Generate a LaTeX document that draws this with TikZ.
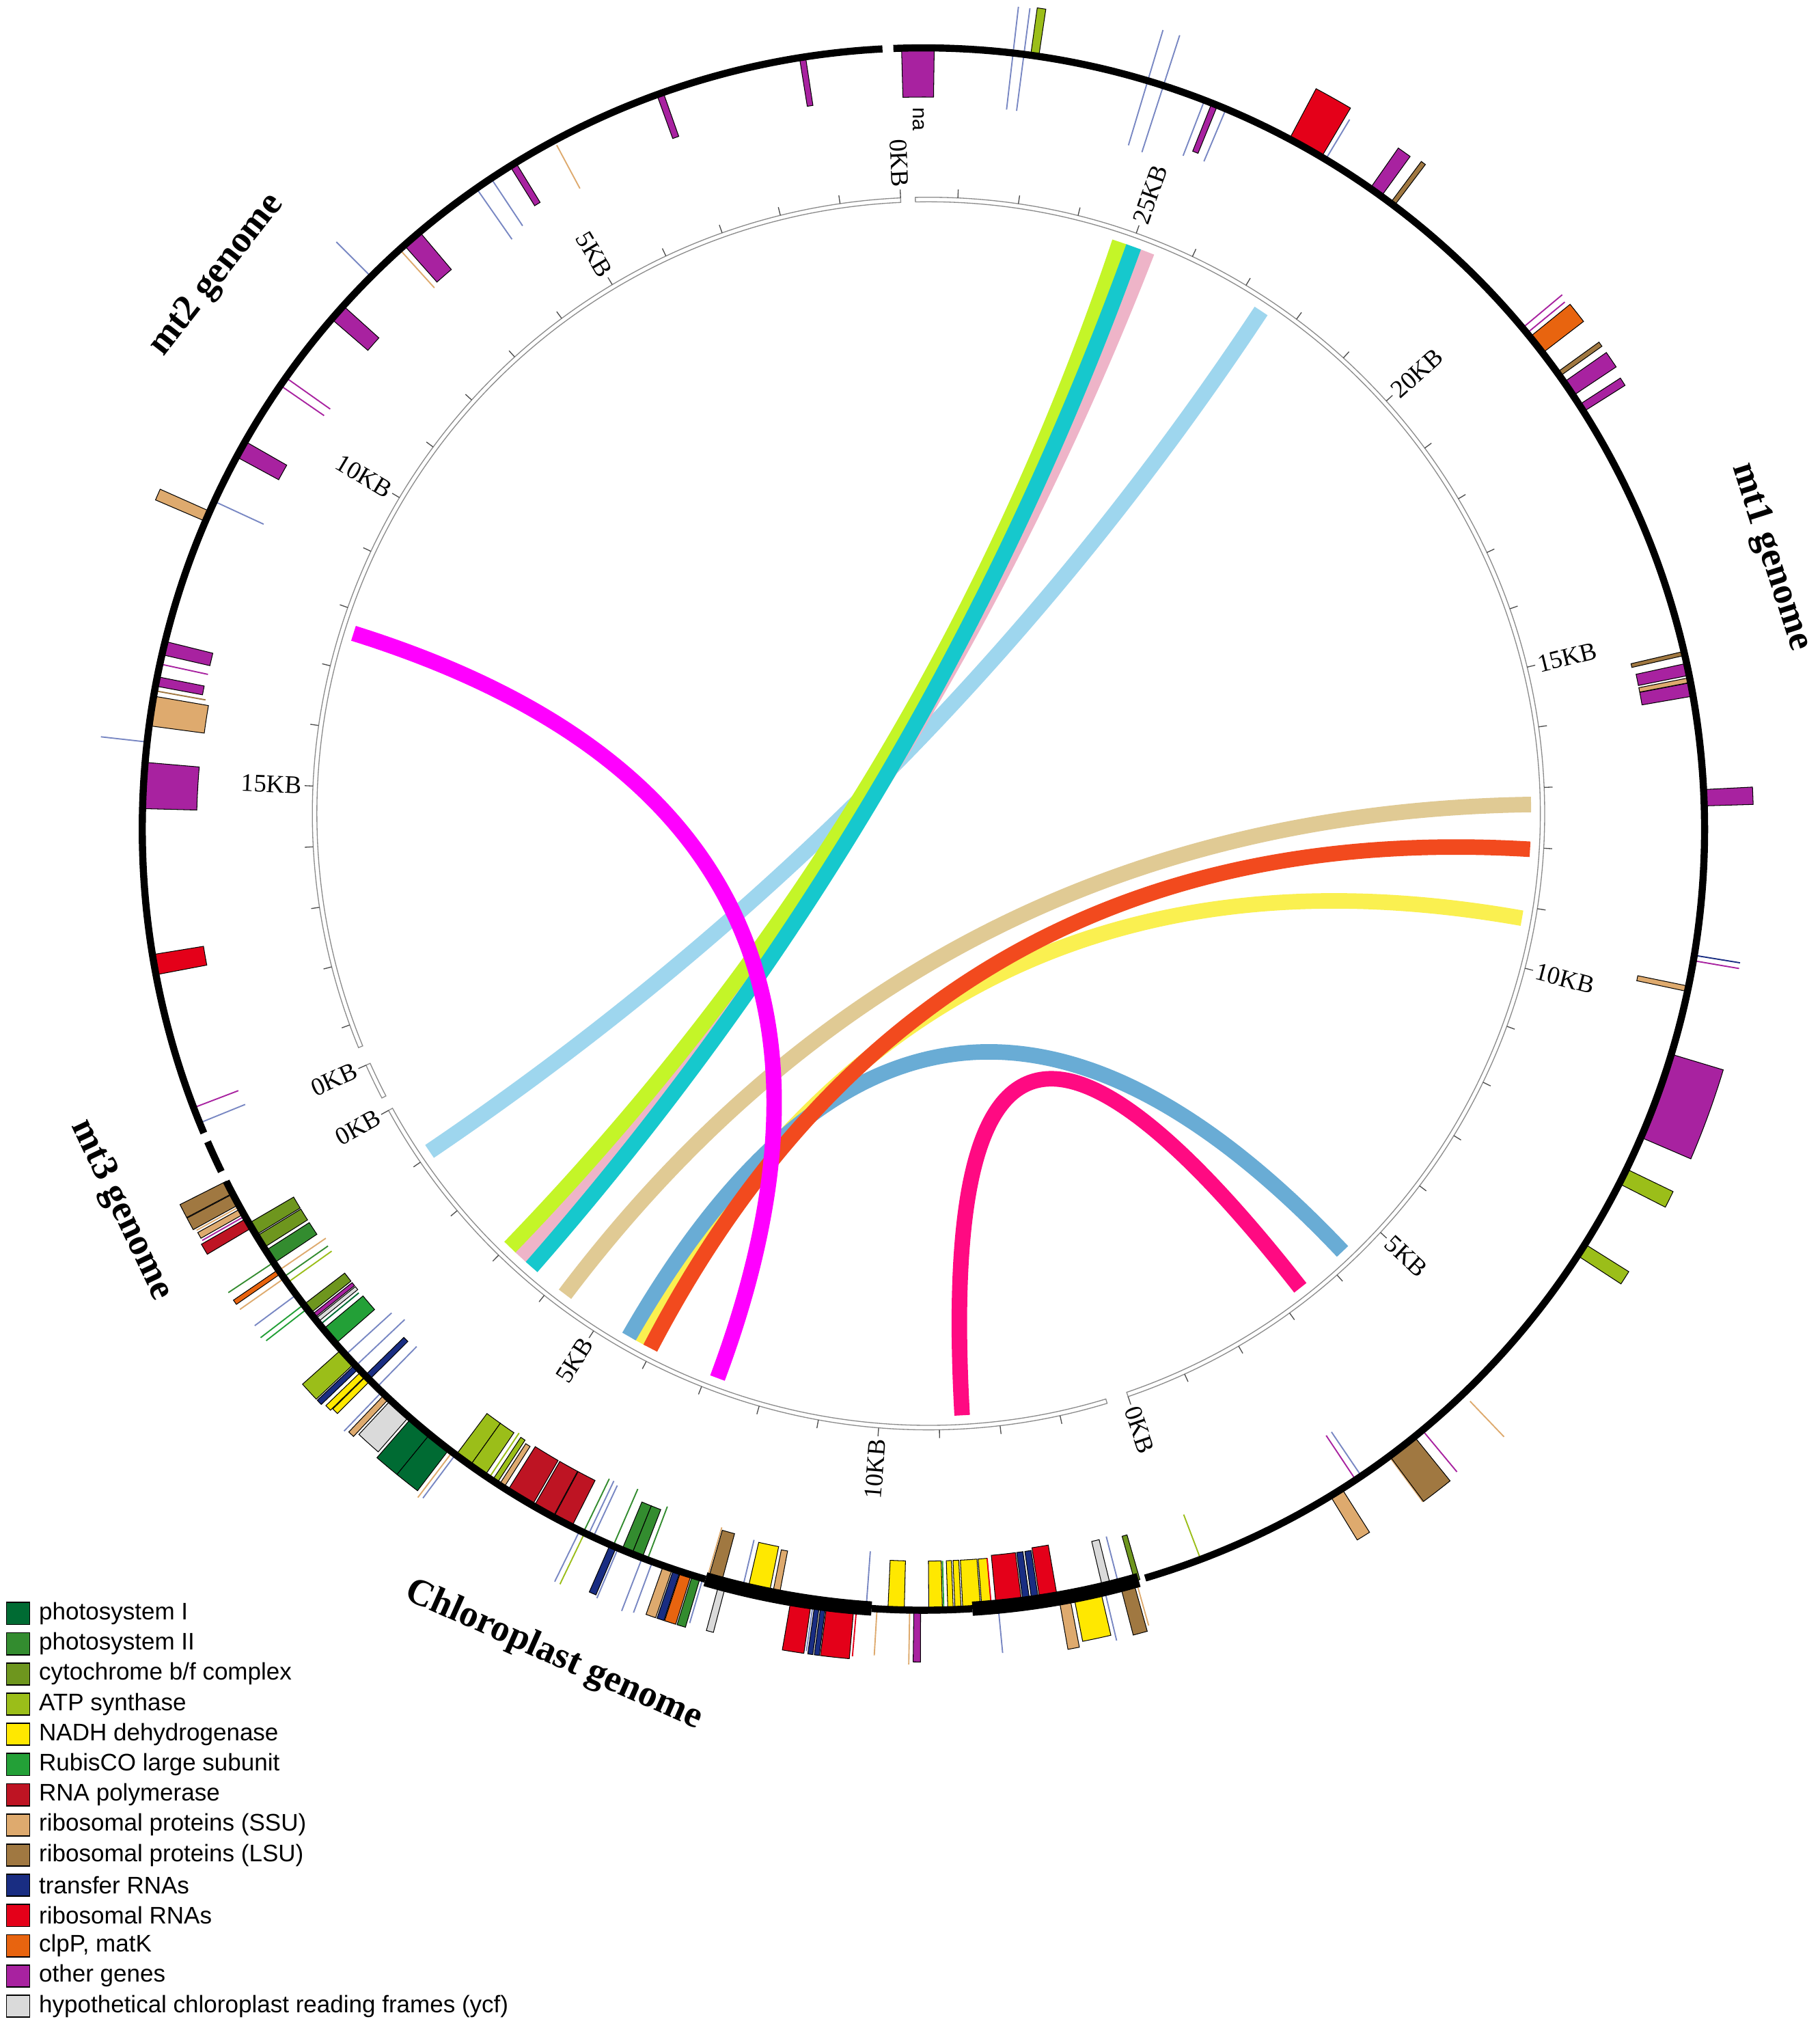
\documentclass[tikz,border=0pt]{standalone}
\usepackage{fontspec}
\setmainfont{Liberation Serif}
\newfontfamily\lsans{Liberation Sans}
\usetikzlibrary{calc}
\definecolor{psi}{RGB}{0,107,51}
\definecolor{psii}{RGB}{51,140,47}
\definecolor{cytb}{RGB}{110,150,30}
\definecolor{atp}{RGB}{155,190,25}
\definecolor{ndh}{RGB}{255,232,0}
\definecolor{rbcl}{RGB}{35,160,55}
\definecolor{rpo}{RGB}{190,20,35}
\definecolor{rps}{RGB}{222,170,110}
\definecolor{rpl}{RGB}{160,120,65}
\definecolor{trna}{RGB}{25,45,130}
\definecolor{rrna}{RGB}{228,0,25}
\definecolor{clp}{RGB}{232,100,15}
\definecolor{oth}{RGB}{168,34,160}
\definecolor{ycf}{RGB}{218,218,218}
\definecolor{tline}{RGB}{120,135,195}
\definecolor{lkLime}{RGB}{196,245,40}
\definecolor{lkCyan}{RGB}{22,200,205}
\definecolor{lkPink}{RGB}{238,180,200}
\definecolor{lkSky}{RGB}{158,214,238}
\definecolor{lkMag}{RGB}{255,0,255}
\definecolor{lkTan}{RGB}{224,202,148}
\definecolor{lkRed}{RGB}{242,74,30}
\definecolor{lkYel}{RGB}{250,240,80}
\definecolor{lkSteel}{RGB}{105,172,213}
\definecolor{lkDeep}{RGB}{255,10,130}
% gene sector: a1 a2 r1 r2 colour
\newcommand\gnS[5]{\filldraw[fill=#5,draw=black,line width=0.55pt] (#1:#3) -- (#1:#4) arc[start angle=#1,end angle=#2,radius=#4] -- (#2:#3) arc[start angle=#2,end angle=#1,radius=#3] -- cycle;}
\newcommand\gnO[4]{\pgfmathsetmacro\gnA{#1-#2/2}\pgfmathsetmacro\gnB{#1+#2/2}\pgfmathsetmacro\gnR{604+#3}\gnS{\gnA}{\gnB}{604}{\gnR}{#4}}
\newcommand\gnI[4]{\pgfmathsetmacro\gnA{#1-#2/2}\pgfmathsetmacro\gnB{#1+#2/2}\pgfmathsetmacro\gnR{604-#3}\gnS{\gnA}{\gnB}{\gnR}{604}{#4}}
\newcommand\gnL[4]{\draw[#4,line width=1pt] (#1:#2) -- (#1:#3);}
% inner scale segment: start angle, length KB, last tick
\newcommand\irSeg[3]{\pgfmathsetmacro\irE{#1+#2*5.656}%
  \filldraw[irband] (#1:473) arc[start angle=#1,end angle=\irE,radius=473] -- (\irE:476.5) arc[start angle=\irE,end angle=#1,radius=476.5] -- cycle;%
  \foreach \k in {0,...,#3} \draw[irtick] ({#1+5.656*\k}:476.5) -- ({#1+5.656*\k}:483);}
\newcommand\lk[3]{\draw[lnk,#1] (#2) .. controls ($(#2)!0.6667!(IC)$) and ($(#3)!0.6667!(IC)$) .. (#3);}
\begin{document}
\begin{tikzpicture}[x=1pt,y=1pt,
  lnk/.style={line width=12pt, line cap=butt},
  ringln/.style={line width=5.5pt, black},
  ringthick/.style={line width=11pt, black},
  irband/.style={draw=black!45, fill=white, line width=0.7pt},
  irtick/.style={draw=black!70, line width=0.7pt},
  klabel/.style={font=\fontsize{19.5}{20}\selectfont, inner sep=1pt},
  glabel/.style={font=\bfseries\fontsize{29}{30}\selectfont, inner sep=0pt},
  legbox/.style={draw=black, line width=1pt, minimum width=18pt, minimum height=17pt, inner sep=0pt},
  legtxt/.style={font=\lsans\fontsize{18.5}{19}\selectfont, inner sep=0pt, anchor=west}]
\fill[white] (0,0) rectangle (1407,-1568);
\useasboundingbox (0,0) rectangle (1407,-1568);

% ---------------- inner scale ring and links ----------------
\begin{scope}[shift={(718,-629)}]
\coordinate (IC) at (0,0);
\irSeg{-71.1}{28.7}{28}
\irSeg{92.6}{19.4}{19}
\irSeg{204.1}{0.6}{0}
\irSeg{208.8}{13.8}{13}
% mt1 labels
\node[klabel,rotate=-71.1,anchor=west] (k10) at (-71.1:484) {0KB};
\node[klabel,rotate=-42.82,anchor=west] (k15) at (-42.82:484) {5KB};
\node[klabel,rotate=-14.54,anchor=west] (k110) at (-14.54:484) {10KB};
\node[klabel,rotate=13.74,anchor=west] (k115) at (13.74:484) {15KB};
\node[klabel,rotate=42.02,anchor=west] (k120) at (42.02:484) {20KB};
\node[klabel,rotate=70.3,anchor=west] (k125) at (70.3:484) {25KB};
% mt2 labels
\node[klabel,rotate=-87.4,anchor=east] (k20) at (92.6:484) {0KB};
\node[klabel,rotate=-59.12,anchor=east] (k25) at (120.88:484) {5KB};
\node[klabel,rotate=-30.84,anchor=east] (k210) at (149.16:484) {10KB};
\node[klabel,rotate=-2.56,anchor=east] (k215) at (177.44:484) {15KB};
% mt3 label
\node[klabel,rotate=24.1,anchor=east] (k30) at (204.1:484) {0KB};
% chloroplast labels
\node[klabel,rotate=28.8,anchor=east] (kc0) at (208.8:484) {0KB};
\node[klabel,rotate=57.08,anchor=east] (kc5) at (237.08:484) {5KB};
\node[klabel,rotate=85.36,anchor=east] (kc10) at (265.36:484) {10KB};
% link ends
\coordinate (LaA) at (71.5:466);  \coordinate (LaB) at (226.0:466);
\coordinate (LbA) at (70.1:466);  \coordinate (LbB) at (228.8:466);
\coordinate (LcA) at (68.75:466); \coordinate (LcB) at (227.4:466);
\coordinate (LdA) at (56.5:466);  \coordinate (LdB) at (214.1:466);
\coordinate (LeA) at (162.6:466); \coordinate (LeB) at (249.5:466);
\coordinate (LfA) at (0.86:466);  \coordinate (LfB) at (232.9:466);
\coordinate (LgA) at (-3.4:466);  \coordinate (LgB) at (242.5:466);
\coordinate (LhA) at (-10.0:466); \coordinate (LhB) at (241.3:466);
\coordinate (LiA) at (-46.6:466); \coordinate (LiB) at (240.2:466);
\coordinate (LjA) at (-51.9:466); \coordinate (LjB) at (273.2:466);
\lk{lkSky}{LdA}{LdB}
\lk{lkTan}{LfA}{LfB}
\lk{lkYel}{LhA}{LhB}
\lk{lkSteel}{LiA}{LiB}
\lk{lkRed}{LgA}{LgB}
\lk{lkPink}{LcA}{LcB}
\lk{lkLime}{LaA}{LaB}
\lk{lkCyan}{LbA}{LbB}
\lk{lkDeep}{LjA}{LjB}
\lk{lkMag}{LeA}{LeB}
\end{scope}

% ---------------- outer gene ring ----------------
\begin{scope}[shift={(714,-641)}]
% mt2
\gnI{98.9}{0.45}{38}{oth}
\gnI{109.7}{0.5}{36}{oth}
\gnL{118.2}{562}{600}{rps}
\gnI{121.7}{0.5}{36}{oth}
\gnL{123.6}{560}{602}{tline}
\gnL{124.9}{556}{602}{tline}
\gnI{130.9}{1.5}{38}{oth}
\gnL{132.1}{564}{602}{rps}
\gnL{135.0}{604}{642}{tline}
\gnI{138.6}{1.3}{37}{oth}
\gnL{144.7}{562}{603}{oth}
\gnL{145.4}{563}{603}{oth}
\gnI{150.9}{1.3}{37}{oth}
\gnL{155.2}{562}{603}{tline}
\gnO{156.4}{0.8}{42}{rps}
\gnI{166.6}{1.0}{38}{oth}
\gnL{167.8}{566}{603}{oth}
\gnI{169.1}{0.7}{37}{oth}
\gnL{169.8}{564}{603}{rpl}
\gnI{171.3}{2.2}{43}{rps}
\gnL{173.6}{604}{640}{tline}
\gnI{176.8}{3.4}{42}{oth}
\gnI{190.0}{1.5}{40}{rrna}
\gnL{200.9}{567}{603}{oth}
\gnL{202.1}{566}{603}{tline}
% chloroplast
\gnO{207.3}{1.0}{40}{rpl}
\gnO{208.3}{0.9}{40}{rpl}
\gnL{208.9}{604}{642}{rps}
\gnO{209.3}{0.45}{38}{rps}
\gnL{209.7}{604}{642}{oth}
\gnO{210.3}{0.8}{40}{rpo}
\gnI{210.8}{1.0}{40}{cytb}
\gnI{211.9}{1.0}{40}{cytb}
\gnI{213.2}{1.1}{40}{psii}
\gnL{213.7}{604}{646}{psii}
\gnO{214.5}{0.35}{42}{clp}
\gnL{215.1}{604}{646}{rps}
\gnL{216.6}{604}{644}{tline}
\gnL{217.5}{604}{646}{rbcl}
\gnL{217.9}{604}{644}{rbcl}
\gnL{214.4}{560}{603}{rps}
\gnL{215.0}{562}{603}{psii}
\gnL{215.5}{562}{603}{atp}
\gnI{217.9}{0.8}{40}{cytb}
\gnI{218.6}{0.3}{40}{oth}
\gnI{219.0}{0.3}{40}{ycf}
\gnL{219.4}{565}{603}{psi}
\gnI{220.5}{1.4}{40}{rbcl}
\gnL{222.3}{556}{603}{tline}
\gnL{223.4}{552}{603}{tline}
\gnO{222.5}{1.4}{40}{atp}
\gnO{223.5}{0.4}{40}{trna}
\gnO{224.2}{0.45}{38}{ndh}
\gnO{224.7}{0.45}{36}{ndh}
\gnI{224.6}{0.45}{42}{trna}
\gnL{225.6}{560}{603}{tline}
\gnL{226.1}{604}{646}{tline}
\gnO{226.6}{0.45}{40}{rps}
\gnO{227.9}{1.8}{36}{ycf}
\gnO{229.9}{1.8}{40}{psi}
\gnO{231.7}{1.8}{40}{psi}
\gnL{232.9}{604}{648}{rps}
\gnL{233.2}{604}{646}{tline}
\gnI{233.9}{1.3}{40}{atp}
\gnI{235.2}{1.3}{40}{atp}
\gnL{236.2}{562}{603}{atp}
\gnI{236.7}{0.4}{40}{atp}
\gnI{237.3}{0.4}{38}{rps}
\gnI{238.9}{2.1}{40}{rpo}
\gnI{240.9}{1.6}{40}{rpo}
\gnI{242.5}{1.5}{40}{rpo}
\gnL{243.9}{604}{648}{tline}
\gnL{244.3}{604}{648}{atp}
\gnL{244.2}{558}{603}{psii}
\gnL{244.6}{558}{603}{tline}
\gnL{245.0}{560}{603}{tline}
\gnO{246.6}{0.5}{40}{trna}
\gnL{247.0}{604}{646}{tline}
\gnL{246.6}{556}{603}{psii}
\gnI{247.7}{0.8}{40}{psii}
\gnI{248.5}{0.8}{40}{psii}
\gnL{249.3}{560}{603}{psii}
\gnL{248.9}{604}{648}{tline}
\gnL{249.7}{604}{646}{tline}
\gnO{250.9}{0.7}{40}{rps}
\gnO{251.6}{0.5}{40}{trna}
\gnO{252.3}{0.8}{40}{clp}
\gnO{253.1}{0.6}{40}{psii}
\gnL{253.6}{604}{640}{tline}
\gnL{253.9}{562}{603}{rps}
\gnI{254.5}{1.0}{40}{rpl}
\gnO{255.1}{0.5}{38}{ycf}
\gnL{256.6}{565}{603}{tline}
\gnI{257.8}{1.6}{38}{ndh}
\gnI{259.1}{0.5}{36}{rps}
\gnO{261.0}{1.5}{40}{rrna}
\gnL{261.9}{604}{642}{tline}
\gnO{262.2}{0.35}{40}{trna}
\gnO{262.65}{0.35}{40}{trna}
\gnO{263.9}{2.0}{40}{rrna}
\gnL{265.1}{604}{642}{rrna}
\gnL{266.6}{604}{640}{rps}
\gnL{265.8}{560}{603}{tline}
\gnI{268.0}{1.2}{38}{ndh}
\gnL{269.0}{604}{646}{rps}
\gnO{269.55}{0.5}{40}{oth}
\gnI{270.9}{1.0}{38}{ndh}
\gnL{271.5}{566}{603}{rbcl}
\gnI{272.0}{0.4}{38}{ndh}
\gnI{272.55}{0.45}{38}{ndh}
\gnI{273.55}{1.3}{38}{ndh}
\gnI{274.65}{0.7}{38}{ndh}
\gnL{275.5}{604}{640}{tline}
\gnL{275.0}{566}{603}{rrna}
\gnI{276.3}{1.9}{40}{rrna}
\gnI{277.6}{0.5}{40}{trna}
\gnI{278.25}{0.5}{40}{trna}
\gnI{279.25}{1.3}{42}{rrna}
\gnO{280.4}{0.8}{40}{rps}
\gnO{282.1}{2.0}{36}{ndh}
\gnL{283.4}{604}{645}{tline}
\gnI{283.6}{0.6}{38}{ycf}
\gnL{284.5}{565}{603}{tline}
\gnO{285.1}{1.0}{40}{rpl}
\gnL{285.8}{604}{640}{rps}
\gnI{285.9}{0.4}{36}{cytb}
% mt1
\gnL{290.8}{567}{603}{atp}
\gnO{301.9}{1.0}{40}{rps}
\gnL{303.6}{563}{603}{oth}
\gnL{304.1}{563}{603}{tline}
\gnL{306.6}{604}{648}{rps}
\gnO{307.8}{2.3}{44}{rpl}
\gnL{309.7}{604}{646}{oth}
\gnL{313.7}{612}{650}{rps}
\gnO{327.4}{1.0}{40}{atp}
\gnO{333.6}{1.2}{40}{atp}
\gnO{340.0}{6.5}{42}{oth}
\gnI{348.2}{0.4}{40}{rps}
\gnL{350.3}{604}{640}{oth}
\gnL{350.7}{604}{640}{trna}
\gnO{2.3}{1.2}{38}{oth}
\gnI{10.3}{1.0}{40}{oth}
\gnI{11.0}{0.35}{40}{rps}
\gnI{11.8}{0.9}{40}{oth}
\gnI{13.0}{0.3}{42}{rpl}
\gnO{32.6}{0.6}{38}{oth}
\gnO{34.3}{1.2}{40}{oth}
\gnO{35.6}{0.35}{40}{rpl}
\gnO{38.3}{1.5}{40}{clp}
\gnL{39.4}{604}{642}{oth}
\gnL{39.9}{604}{644}{oth}
\gnO{53.1}{0.35}{40}{rpl}
\gnO{54.6}{1.0}{38}{oth}
\gnL{59.0}{604}{640}{tline}
\gnO{60.7}{2.7}{44}{rrna}
\gnL{67.2}{560}{603}{tline}
\gnI{68.1}{0.45}{40}{oth}
\gnL{68.9}{558}{603}{tline}
\gnL{72.1}{550}{645}{tline}
\gnL{73.3}{552}{645}{tline}
\gnO{81.8}{0.6}{37}{atp}
\gnL{82.6}{560}{640}{tline}
\gnL{83.4}{560}{640}{tline}
\gnI{90.4}{2.4}{38}{oth}
\node[font=\lsans\fontsize{16}{16}\selectfont, rotate=-90, inner sep=0pt] (na) at (90.4:549) {na};
% the genome backbones
\draw[ringln] (93.0:604) arc[start angle=93.0,end angle=202.9,radius=604];
\draw[ringln] (203.6:604) arc[start angle=203.6,end angle=206.0,radius=604];
\draw[ringln] (206.8:604) arc[start angle=206.8,end angle=253.8,radius=604];
\draw[ringthick] (253.8:604) arc[start angle=253.8,end angle=266.2,radius=604];
\draw[ringln] (266.2:604) arc[start angle=266.2,end angle=273.6,radius=604];
\draw[ringthick] (273.6:604) arc[start angle=273.6,end angle=286.0,radius=604];
\draw[ringln] (286.5:604) arc[start angle=286.5,end angle=452.2,radius=604];
% genome names
\node[glabel, rotate=-72.2] (gmt1) at (17.8:688) {mt1 genome};
\node[glabel, rotate=52] (gmt2) at (141.9:694) {mt2 genome};
\node[glabel, rotate=-64.6] (gmt3) at (205.4:687) {mt3 genome};
\node[glabel, rotate=-24] (gcp) at (245.9:700) {Chloroplast genome};
\end{scope}

% ---------------- legend ----------------
\foreach \c/\t [count=\i from 0] in {psi/{photosystem I}, psii/{photosystem II}, cytb/{cytochrome b/f complex}, atp/{ATP synthase}, ndh/{NADH dehydrogenase}, rbcl/{RubisCO large subunit}, rpo/{RNA polymerase}, rps/{ribosomal proteins (SSU)}, rpl/{ribosomal proteins (LSU)}, trna/{transfer RNAs}, rrna/{ribosomal RNAs}, clp/{clpP, matK}, oth/{other genes}, ycf/{hypothetical chloroplast reading frames (ycf)}}{
  \node[legbox, fill=\c] (legb\i) at (14, {-1247.5-23.35*\i}) {};
  \node[legtxt] (legt\i) at (30, {-1247.5-23.35*\i}) {\t};
}
\end{tikzpicture}
\end{document}
